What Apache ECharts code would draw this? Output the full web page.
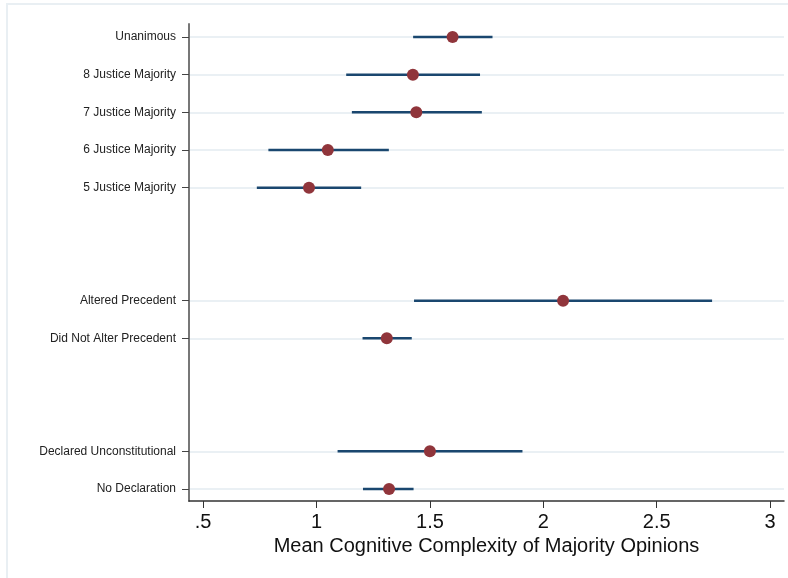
<!DOCTYPE html>
<html>
<head>
<meta charset="utf-8">
<script src="https://cdn.jsdelivr.net/npm/echarts@6/dist/echarts.min.js"></script>
<style>
    html, body { margin: 0; padding: 0; background: #fff; }
    #chart { width: 788px; height: 578px; }
</style>
</head>
<body>
<div id="chart"></div>
<script>
// rows of the dot plot, top to bottom (gaps between the groups are empty rows)
const labels = [
    "Unanimous", "8 Justice Majority", "7 Justice Majority", "6 Justice Majority", "5 Justice Majority",
    "Altered Precedent", "Did Not Alter Precedent",
    "Declared Unconstitutional", "No Declaration"
];
const rows = [0, 1, 2, 3, 4, 7, 8, 11, 12];
const means = [1.60, 1.425, 1.44, 1.05, 0.967, 2.087, 1.31, 1.50, 1.32];
const lower = [1.426, 1.131, 1.156, 0.788, 0.737, 1.43, 1.203, 1.093, 1.205];
const upper = [1.776, 1.721, 1.729, 1.319, 1.197, 2.744, 1.42, 1.908, 1.428];
const xTicks = [0.5, 1, 1.5, 2, 2.5, 3];

const chart = echarts.init(document.getElementById("chart"));

const font = "'Liberation Sans', Arial, sans-serif";

chart.setOption({
    animation: false,
    // light outer frame, open at the bottom and right like the reference
    graphic: [{
        type: "rect",
        shape: { x: 7, y: 4, width: 800, height: 600 },
        style: { fill: "none", stroke: "#e9eff3", lineWidth: 2 },
        silent: true
    }],
    grid: { left: 189, right: 4, top: 24, bottom: 77 },
    xAxis: {
        type: "value",
        min: 0.438,
        max: 3.061,
        name: "Mean Cognitive Complexity of Majority Opinions",
        nameLocation: "middle",
        nameGap: 33,
        nameTextStyle: { fontFamily: font, fontSize: 20, color: "#111" },
        axisLine: { onZero: false, lineStyle: { color: "#333", width: 1.5 } },
        axisTick: { show: true, length: 7, customValues: xTicks, lineStyle: { color: "#333" } },
        axisLabel: {
            customValues: xTicks,
            margin: 11,
            fontFamily: font,
            fontSize: 20,
            color: "#111",
            formatter: v => String(v).replace(/^0\./, ".")
        },
        splitLine: { show: false }
    },
    yAxis: {
        type: "value",
        inverse: true,
        min: -0.345,
        max: 12.32,
        axisLine: { show: true, lineStyle: { color: "#777", width: 2 } },
        axisTick: { show: true, length: 7, customValues: rows, lineStyle: { color: "#444" } },
        axisLabel: {
            customValues: rows,
            margin: 13,
            fontFamily: font,
            fontSize: 12,
            color: "#222",
            formatter: v => labels[rows.indexOf(v)] || ""
        },
        splitLine: { show: true, lineStyle: { color: "#eaf0f4", width: 2 } }
    },
    series: [
        {
            name: "interval",
            type: "custom",
            data: rows.map((r, i) => [lower[i], upper[i], r]),
            encode: { x: [0, 1], y: 2 },
            renderItem: (params, api) => {
                const a = api.coord([api.value(0), api.value(2)]);
                const b = api.coord([api.value(1), api.value(2)]);
                return {
                    type: "line",
                    shape: { x1: a[0], y1: a[1], x2: b[0], y2: b[1] },
                    style: { stroke: "#1a476f", lineWidth: 2.5 }
                };
            },
            z: 2
        },
        {
            name: "mean",
            type: "scatter",
            data: rows.map((r, i) => [means[i], r]),
            symbol: "circle",
            symbolSize: 12,
            itemStyle: { color: "#90353b", opacity: 1 },
            z: 3
        }
    ]
});
</script>
</body>
</html>
